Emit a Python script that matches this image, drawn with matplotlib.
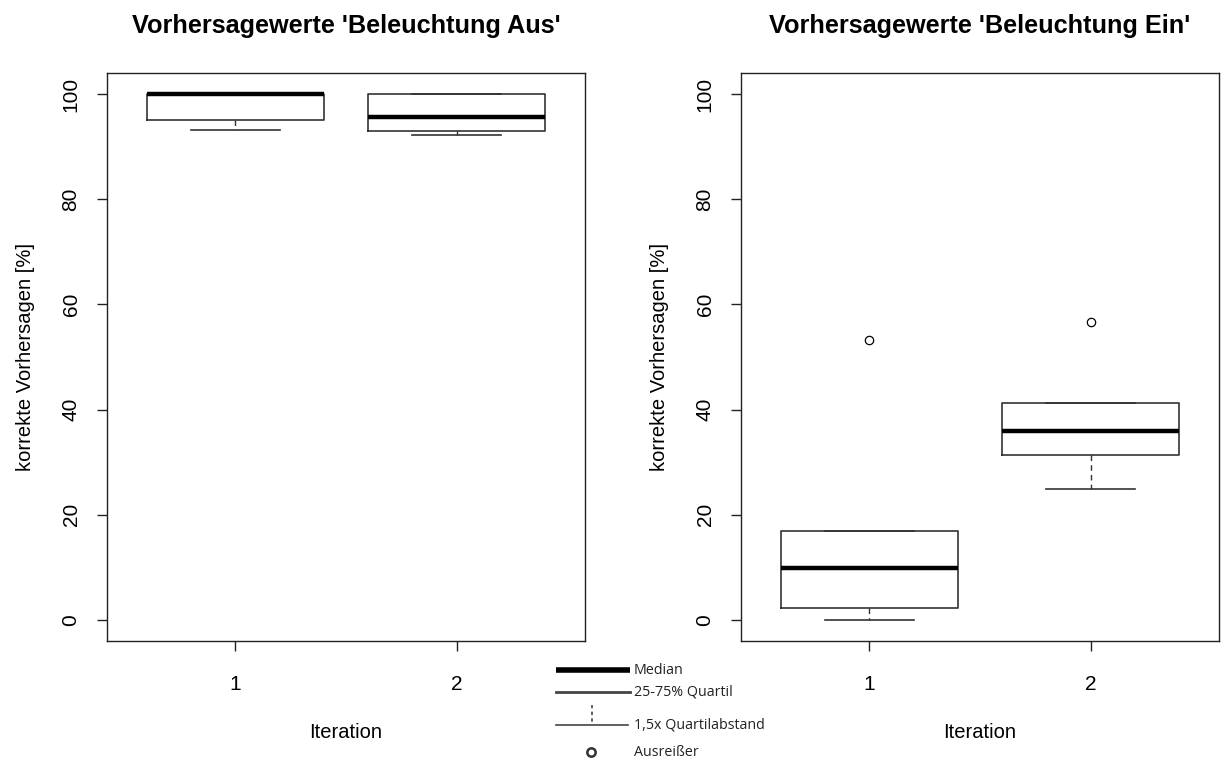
import numpy as np
import matplotlib.pyplot as plt
from matplotlib.lines import Line2D

# Kennwerte der Boxplots
iterationen = [1, 2]

aus_median = [100.0, 95.6]
aus_q1 = [95.1, 93.0]
aus_q3 = [100.0, 100.0]
aus_whislo = [93.2, 92.2]
aus_whishi = [100.0, 100.0]
aus_fliers = [[], []]

ein_median = [9.9, 35.9]
ein_q1 = [2.3, 31.4]
ein_q3 = [16.9, 41.3]
ein_whislo = [0.0, 24.9]
ein_whishi = [16.9, 41.3]
ein_fliers = [[53.2], [56.7]]

titel = ["Vorhersagewerte 'Beleuchtung Aus'", "Vorhersagewerte 'Beleuchtung Ein'"]
yticks = [0, 20, 40, 60, 80, 100]

legende_text = ["Median", "25-75% Quartil", "1,5x Quartilabstand", "Ausreißer"]


def stats(med, q1, q3, lo, hi, fl):
    return [dict(med=med[i], q1=q1[i], q3=q3[i], whislo=lo[i], whishi=hi[i],
                 fliers=fl[i], label=str(iterationen[i])) for i in range(len(med))]


plt.rcParams['font.family'] = ['Liberation Sans', 'DejaVu Sans']
fig = plt.figure(figsize=(12.22, 7.58), dpi=100)

bottom = 1 - 641 / 758
height = (641 - 73) / 758
ax1 = fig.add_axes([107 / 1222, bottom, 478 / 1222, height])
ax2 = fig.add_axes([741 / 1222, bottom, 478 / 1222, height])

daten = [stats(aus_median, aus_q1, aus_q3, aus_whislo, aus_whishi, aus_fliers),
         stats(ein_median, ein_q1, ein_q3, ein_whislo, ein_whishi, ein_fliers)]

for ax, st, t in zip([ax1, ax2], daten, titel):
    ax.bxp(st, positions=iterationen, widths=0.8, showfliers=True,
           boxprops=dict(color='#333333', linewidth=1.2),
           medianprops=dict(color='black', linewidth=3.2, solid_capstyle='butt'),
           whiskerprops=dict(color='#333333', linewidth=1.0, linestyle=(0, (4, 3))),
           capprops=dict(color='#333333', linewidth=1.2),
           capwidths=0.4,
           flierprops=dict(marker='o', markerfacecolor='white', markeredgecolor='black',
                           markersize=6, markeredgewidth=0.9))
    ax.set_xlim(0.42, 2.58)
    ax.set_ylim(-4, 104)
    ax.set_yticks(yticks)
    ax.set_yticklabels([str(v) for v in yticks], rotation=90, va='center')
    ax.set_xticks(iterationen)
    ax.set_xticklabels([str(v) for v in iterationen])
    ax.tick_params(axis='both', direction='out', length=7, width=1, labelsize=15,
                   color='#222222')
    ax.tick_params(axis='x', pad=17.5)
    ax.tick_params(axis='y', pad=12)
    for s in ax.spines.values():
        s.set_linewidth(1)
        s.set_color('#222222')
    ax.set_title(t, fontsize=18.2, fontweight='bold', pad=29)
    ax.set_xlabel('Iteration', fontsize=14.5, labelpad=20.5)
    ax.set_ylabel('korrekte Vorhersagen [%]', fontsize=14.5, labelpad=19)

# Legende unten in der Mitte
W, H = 1222, 758


def fx(x):
    return x / W


def fy(y):
    return 1 - y / H


fig.add_artist(Line2D([fx(556), fx(630)], [fy(670), fy(670)], color='black', linewidth=4,
                      solid_capstyle='butt'))
fig.add_artist(Line2D([fx(556), fx(630)], [fy(692), fy(692)], color='#444444', linewidth=2))
fig.add_artist(Line2D([fx(592), fx(592)], [fy(705), fy(724)], color='#444444', linewidth=1.2,
                      linestyle=(0, (2, 2))))
fig.add_artist(Line2D([fx(556), fx(628)], [fy(725), fy(725)], color='#444444', linewidth=1.2))
fig.add_artist(Line2D([fx(591)], [fy(752)], marker='o', markersize=6, markerfacecolor='white',
                      markeredgecolor='#333333', markeredgewidth=1.8, linestyle='none'))
for txt, y in zip(legende_text, [670, 692, 725, 752]):
    fig.text(fx(634), fy(y), txt, fontsize=10.3, va='center', ha='left',
             family=['Open Sans', 'DejaVu Sans'], color='#222222')

fig.savefig('out.png', dpi=100)
